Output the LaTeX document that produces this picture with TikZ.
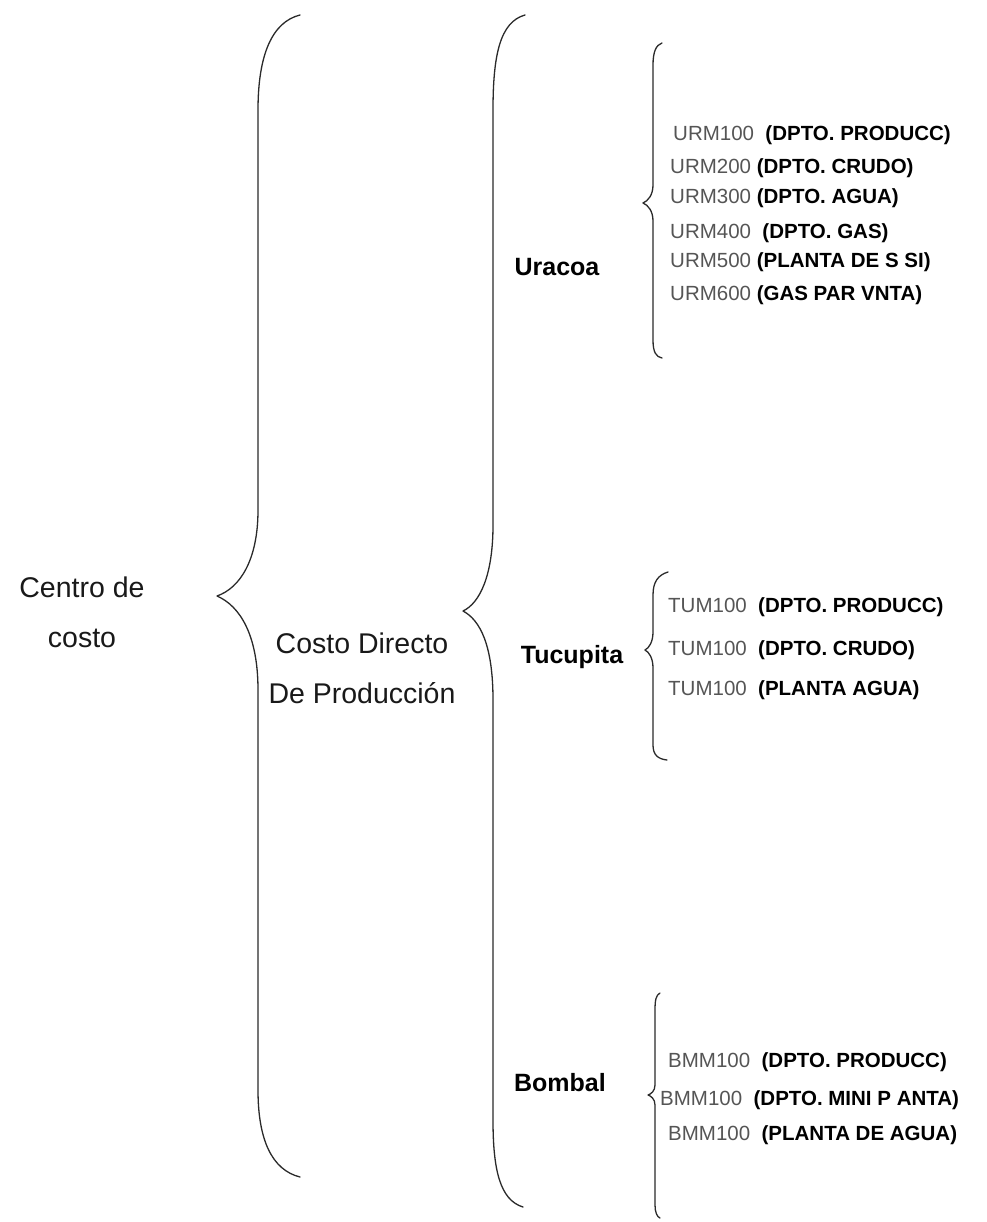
\documentclass[tikz,border=0pt]{standalone}
\usepackage{fontspec}
\setmainfont{Liberation Sans}
\usepackage{tikz}

\definecolor{codegray}{HTML}{555555}
\definecolor{inkgray}{HTML}{2A2A2A}

\tikzset{
    brace/.style={draw=inkgray, line width=1.3pt, line cap=round, line join=round},
    rootlabel/.style={align=center, text=black!90, font=\fontsize{28.5}{50}\selectfont},
    branch/.style={font=\fontsize{25}{28}\bfseries\selectfont},
    leaf/.style={anchor=west, inner sep=0pt, font=\fontsize{20.5}{22}\selectfont},
}

\newcommand{\dept}[2]{{\color{codegray}#1}#2}

\begin{document}
\begin{tikzpicture}[x=1pt, y=-1pt]
    \useasboundingbox (0,0) rectangle (986,1222);

    \node[rootlabel] (centro) at (82,612) {Centro de\\costo};
    \node[rootlabel] (directo) at (362,668) {Costo Directo\\De Producción};

    \node[branch] (uracoa)   at (557,267)  {Uracoa};
    \node[branch] (tucupita) at (572,657)  {Tucupita};
    \node[branch] (bombal)   at (560,1083) {Bombal};

    % Uracoa
    \node[leaf] (u1) at (673,135) {\dept{URM100}{~~\textbf{(DPTO. PRODUCC)}}};
    \node[leaf] (u2) at (670,168) {\dept{URM200}{ \textbf{(DPTO. CRUDO)}}};
    \node[leaf] (u3) at (670,198) {\dept{URM300}{ \textbf{(DPTO. AGUA)}}};
    \node[leaf] (u4) at (670,233) {\dept{URM400}{~~\textbf{(DPTO. GAS)}}};
    \node[leaf] (u5) at (670,262) {\dept{URM500}{ \textbf{(PLANTA DE S SI)}}};
    \node[leaf] (u6) at (670,295) {\dept{URM600}{ \textbf{(GAS PAR VNTA)}}};

    % Tucupita
    \node[leaf] (t1) at (668,607) {\dept{TUM100}{~~\textbf{(DPTO. PRODUCC)}}};
    \node[leaf] (t2) at (668,650) {\dept{TUM100}{~~\textbf{(DPTO. CRUDO)}}};
    \node[leaf] (t3) at (668,690) {\dept{TUM100}{~~\textbf{(PLANTA AGUA)}}};

    % Bombal
    \node[leaf] (b1) at (668,1062) {\dept{BMM100}{~~\textbf{(DPTO. PRODUCC)}}};
    \node[leaf] (b2) at (660,1100) {\dept{BMM100}{~~\textbf{(DPTO. MINI P ANTA)}}};
    \node[leaf] (b3) at (668,1135) {\dept{BMM100}{~~\textbf{(PLANTA DE AGUA)}}};

    % braces
    \draw[brace] (300,15) .. controls (272,22) and (258,55) .. (258,110)
        -- (258,510) .. controls (258,560) and (240,588) .. (217,596)
        .. controls (240,606) and (258,635) .. (258,690)
        -- (258,1090) .. controls (258,1140) and (272,1170) .. (300,1177);
    \draw[brace] (525,15) .. controls (500,22) and (493,55) .. (493,110)
        -- (493,525) .. controls (493,575) and (480,603) .. (463,611)
        .. controls (480,620) and (493,645) .. (493,700)
        -- (493,1120) .. controls (493,1170) and (500,1200) .. (523,1207);
    \draw[brace] (662,43) .. controls (656,45) and (653,52) .. (653,65)
        -- (653,185) .. controls (653,195) and (648,201) .. (643,203)
        .. controls (648,205) and (653,211) .. (653,221)
        -- (653,340) .. controls (653,352) and (656,357) .. (662,358);
    \draw[brace] (668,572) .. controls (658,575) and (653,582) .. (653,595)
        -- (653,632) .. controls (653,642) and (649,648) .. (645,650)
        .. controls (649,652) and (653,658) .. (653,668)
        -- (653,745) .. controls (653,755) and (658,759) .. (667,760);
    \draw[brace] (660,993) .. controls (656,995) and (655,1000) .. (655,1010)
        -- (655,1085) .. controls (655,1091) and (651,1094) .. (648,1095)
        .. controls (651,1096) and (655,1099) .. (655,1105)
        -- (655,1205) .. controls (655,1212) and (657,1217) .. (660,1218);
\end{tikzpicture}
\end{document}
